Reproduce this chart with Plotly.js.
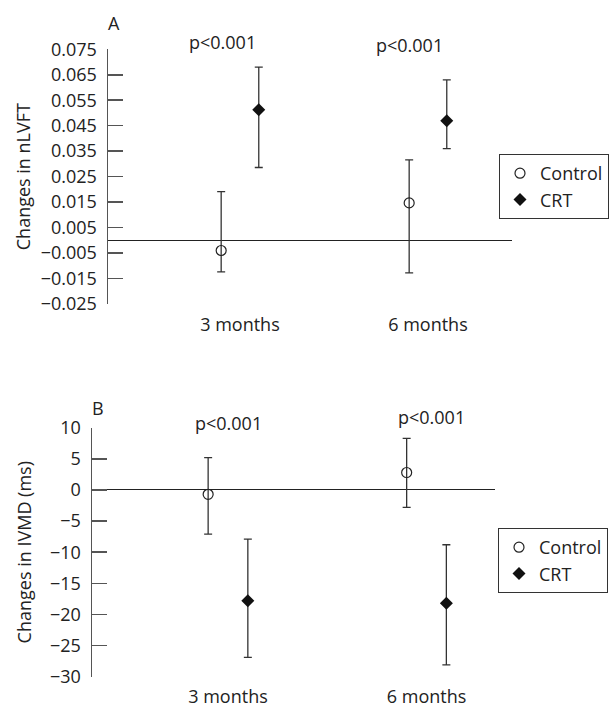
<!DOCTYPE html>
<html>
<head>
<meta charset="utf-8">
<script src="https://cdn.plot.ly/plotly-3.0.1.min.js"></script>
<style>html,body{margin:0;padding:0;background:#fff;}#chart{width:610px;height:708px;}</style>
</head>
<body>
<div id="chart"></div>
<script>
// ---- data ----
const categories = ['3 months', '6 months'];
const seriesNames = ['Control', 'CRT'];

// Panel A: changes in nLVFT (mean, upper bar end, lower bar end)
const nlvftControl   = [-0.004, 0.0147];
const nlvftControlHi = [0.0191, 0.0316];
const nlvftControlLo = [-0.0124, -0.0128];
const nlvftCrt       = [0.0513, 0.0469];
const nlvftCrtHi     = [0.068, 0.063];
const nlvftCrtLo     = [0.0286, 0.036];

// Panel B: changes in IVMD (ms)
const ivmdControl    = [-0.7, 2.8];
const ivmdControlHi  = [5.2, 8.3];
const ivmdControlLo  = [-7.1, -2.8];
const ivmdCrt        = [-17.8, -18.2];
const ivmdCrtHi      = [-7.9, -8.8];
const ivmdCrtLo      = [-26.9, -28.1];

const pLabels = ['p<0.001', 'p<0.001'];

// ---- styling ----
const FONT = 'Open Sans, Liberation Sans, sans-serif';
const FS = 18;
const TXT = '#222';
const AX = '#555';
const OFF = 0.1;
const idx = categories.map((c, i) => i);

function errSpec(mean, hi, lo) {
  return {
    type: 'data', symmetric: false,
    array: hi.map((v, i) => v - mean[i]),
    arrayminus: mean.map((v, i) => v - lo[i]),
    color: '#333', thickness: 1.3, width: 4
  };
}

function makeTraces(ctrl, ctrlHi, ctrlLo, crt, crtHi, crtLo, xa, ya, leg) {
  return [
    {
      type: 'scatter', mode: 'markers', name: seriesNames[0],
      x: idx.map(i => i - OFF), y: ctrl,
      xaxis: xa, yaxis: ya, legend: leg,
      marker: {symbol: 'circle-open', size: 10, color: '#222', line: {width: 1.2, color: '#222'}},
      error_y: errSpec(ctrl, ctrlHi, ctrlLo)
    },
    {
      type: 'scatter', mode: 'markers', name: seriesNames[1],
      x: idx.map(i => i + OFF), y: crt,
      xaxis: xa, yaxis: ya, legend: leg,
      marker: {symbol: 'diamond', size: 10, color: '#111'},
      error_y: errSpec(crt, crtHi, crtLo)
    }
  ];
}

const data = [].concat(
  makeTraces(nlvftControl, nlvftControlHi, nlvftControlLo, nlvftCrt, nlvftCrtHi, nlvftCrtLo, 'x', 'y', 'legend'),
  makeTraces(ivmdControl, ivmdControlHi, ivmdControlLo, ivmdCrt, ivmdCrtHi, ivmdCrtLo, 'x2', 'y2', 'legend2')
);

const xCommon = {
  showgrid: false, zeroline: false, showline: false, ticks: '',
  tickmode: 'array', tickvals: idx, ticktext: categories,
  tickfont: {family: FONT, size: FS, color: TXT},
  fixedrange: true, automargin: false
};
const yCommon = {
  showgrid: false, showline: true, linecolor: AX, linewidth: 1.5,
  ticks: 'inside', ticklen: 15, tickwidth: 1.5, tickcolor: AX,
  tickfont: {family: FONT, size: FS, color: TXT},
  zeroline: true, zerolinecolor: '#222', zerolinewidth: 1,
  ticklabelstandoff: 6, fixedrange: true, automargin: false
};

const legendCommon = {
  bordercolor: '#333', borderwidth: 1, bgcolor: '#fff',
  font: {family: FONT, size: FS, color: TXT},
  xanchor: 'right', yanchor: 'top', itemwidth: 30, tracegroupgap: 0
};

const annFont = {family: FONT, size: FS, color: TXT};
function ann(text, px, py) {
  return {text: text, xref: 'paper', yref: 'paper', x: px/610, y: (708-py)/708,
          xanchor: 'center', yanchor: 'middle', showarrow: false, font: annFont};
}

const layout = {
  width: 610, height: 708,
  margin: {l: 0, r: 0, t: 0, b: 0},
  paper_bgcolor: '#fff', plot_bgcolor: '#fff',
  font: {family: FONT, color: TXT},
  showlegend: true,
  xaxis: Object.assign({}, xCommon, {domain: [108/610, 512/610], range: [-0.702, 1.447], anchor: 'y', ticklabelstandoff: 8}),
  yaxis: Object.assign({}, yCommon, {
    domain: [(708-304)/708, (708-49.3)/708], range: [-0.025, 0.075],
    tickmode: 'linear', tick0: -0.025, dtick: 0.01, tickformat: '.3f', anchor: 'x',
    title: {text: 'Changes in nLVFT', font: {family: FONT, size: FS, color: TXT}, standoff: 5}
  }),
  xaxis2: Object.assign({}, xCommon, {domain: [92/610, 495/610], range: [-0.685, 1.345], anchor: 'y2', ticklabelstandoff: 7}),
  yaxis2: Object.assign({}, yCommon, {
    domain: [(708-676.7)/708, (708-427.7)/708], range: [-30, 10],
    tickmode: 'linear', tick0: -30, dtick: 5, anchor: 'x2',
    title: {text: 'Changes in IVMD (ms)', font: {family: FONT, size: FS, color: TXT}, standoff: 13}
  }),
  legend: Object.assign({}, legendCommon, {x: 609/610, y: (708-154)/708}),
  legend2: Object.assign({}, legendCommon, {x: 608/610, y: (708-528)/708}),
  annotations: [
    ann('A', 114, 23),
    ann('B', 98, 408),
    ann(pLabels[0], 222, 42),
    ann(pLabels[1], 409, 45),
    ann(pLabels[0], 228, 423),
    ann(pLabels[1], 431, 417)
  ]
};

Plotly.newPlot('chart', data, layout, {displayModeBar: false, staticPlot: true});
</script>
</body>
</html>
